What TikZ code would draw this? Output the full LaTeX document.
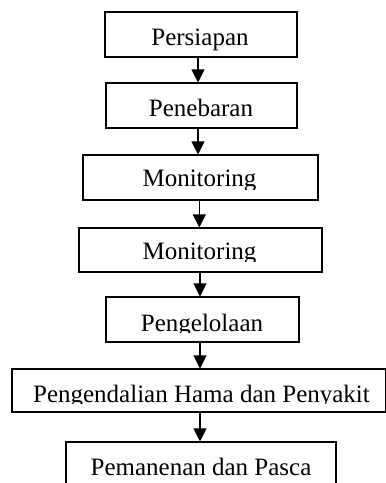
\documentclass[tikz,border=0pt]{standalone}
\usepackage{fontspec}
\setmainfont{Liberation Serif}
\usetikzlibrary{arrows.meta}
\begin{document}
\begin{tikzpicture}[x=1pt,y=-1pt,
  boxstyle/.style={draw, line width=1.1pt, inner sep=0pt},
  lbl/.style={font=\fontsize{25}{30}\selectfont, inner sep=0pt, anchor=base},
  arr/.style={line width=1.1pt, -{Triangle[width=13pt,length=13pt]}}]
\useasboundingbox (0,0) rectangle (386,483);
% boxes
\node[boxstyle, minimum width=192pt, minimum height=45pt] (b1) at (201,34.5) {};
\node[boxstyle, minimum width=191pt, minimum height=45pt] (b2) at (201.5,105.5) {};
\node[boxstyle, minimum width=235pt, minimum height=45pt] (b3) at (200.5,177.5) {};
\node[boxstyle, minimum width=243pt, minimum height=44pt] (b4) at (200.5,250) {};
\node[boxstyle, minimum width=193pt, minimum height=45pt] (b5) at (202.5,319.5) {};
\node[boxstyle, minimum width=373.5pt, minimum height=43pt] (b6) at (198.75,390.5) {};
\node[boxstyle, minimum width=270pt, minimum height=60pt] (b7) at (201,472) {};
% labels (clipped like the original text boxes)
\begin{scope}\clip (105,12) rectangle (297,50.5);
\node[lbl] (t1) at (200,45) {Persiapan};\end{scope}
\begin{scope}\clip (106,83) rectangle (297,120);
\node[lbl] (t2) at (201,116) {Penebaran};\end{scope}
\begin{scope}\clip (83,155) rectangle (318,189.3);
\node[lbl] (t3) at (199.5,186.7) {Monitoring};\end{scope}
\begin{scope}\clip (79,228) rectangle (322,261.5);
\node[lbl] (t4) at (199.5,259) {Monitoring};\end{scope}
\begin{scope}\clip (106,297) rectangle (299,332.8);
\node[lbl] (t5) at (202,331) {Pengelolaan};\end{scope}
\begin{scope}\clip (12,369) rectangle (386,403.3);
\node[lbl] (t6) at (201.5,402.3) {Pengendalian Hama dan Penyakit};\end{scope}
\node[lbl] (t7) at (201,475) {Pemanenan dan Pasca};
% arrows
\coordinate (c1) at (198,0);
\coordinate (c2) at (198,0);
\coordinate (c3) at (199.3,0);
\coordinate (c4) at (200,0);
\coordinate (c5) at (200,0);
\coordinate (c6) at (200,0);
\draw[arr] (b1.south -| c1) -- (b2.north -| c1);
\draw[arr] (b2.south -| c2) -- (b3.north -| c2);
\draw[arr] (b3.south -| c3) -- (b4.north -| c3);
\draw[arr] (b4.south -| c4) -- (b5.north -| c4);
\draw[arr] (b5.south -| c5) -- (b6.north -| c5);
\draw[arr] (b6.south -| c6) -- (b7.north -| c6);
\end{tikzpicture}
\end{document}
